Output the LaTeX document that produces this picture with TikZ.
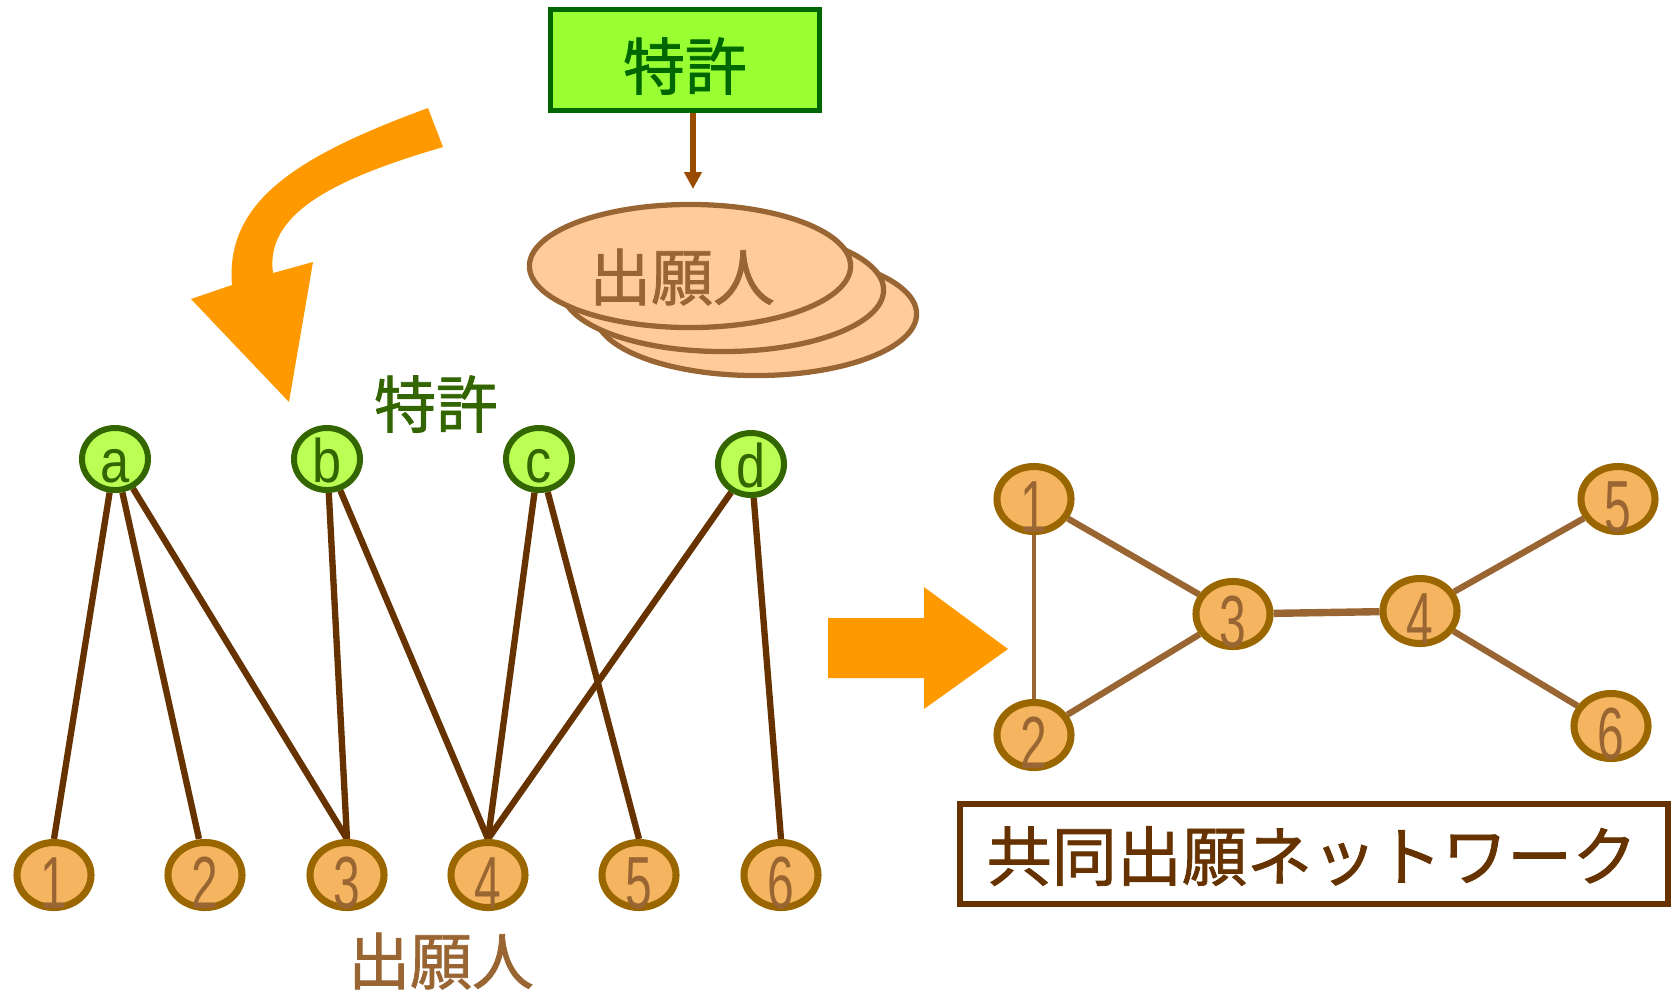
\documentclass[tikz,border=0pt]{standalone}
\usepackage{fontspec}
\usepackage{graphicx}
\setmainfont{Liberation Sans}
\newfontfamily\cjk{Noto Sans CJK JP}[FakeBold=1.2]
\usetikzlibrary{arrows.meta,calc,shapes.geometric}
\definecolor{cOrange}{HTML}{FF9900}
\definecolor{cBoxFill}{HTML}{99FF33}
\definecolor{cBoxBorder}{HTML}{006600}
\definecolor{cGreenText}{HTML}{336600}
\definecolor{cGreenFill}{HTML}{BBFF55}
\definecolor{cOrFill}{HTML}{F4B460}
\definecolor{cOrBorder}{HTML}{996600}
\definecolor{cDigit}{HTML}{996633}
\definecolor{cDarkBrown}{HTML}{663300}
\definecolor{cMidBrown}{HTML}{996633}
\definecolor{cStackFill}{HTML}{FFCC99}
\definecolor{cSmallArrow}{HTML}{994C00}
\pgfdeclarelayer{bg}
\pgfsetlayers{bg,main}
\tikzset{
  gnode/.style={ellipse, draw=cGreenText, fill=cGreenFill, line width=1.7pt, minimum width=0.66cm, minimum height=0.62cm, inner sep=0pt},
  onode/.style={ellipse, draw=cOrBorder, fill=cOrFill, line width=2pt, minimum width=0.74cm, minimum height=0.65cm, inner sep=0pt},
  gletter/.style={text=cGreenText, font=\fontsize{17.5pt}{20pt}\selectfont, anchor=base, inner sep=0pt},
  digit/.style={text=cDigit, font=\fontsize{21pt}{24pt}\selectfont, anchor=base, inner sep=0pt},
  ledgeline/.style={draw=cDarkBrown, line width=1.8pt},
  redgeline/.style={draw=cMidBrown, line width=1.8pt},
  stackell/.style={ellipse, draw=cMidBrown, fill=cStackFill, line width=1.5pt, minimum width=3.21cm, minimum height=1.23cm, inner sep=0pt},
  cjklabel/.style={font=\cjk\fontsize{17.6pt}{20pt}\selectfont, inner sep=0pt},
}
\newcommand{\gl}[1]{\scalebox{0.85}[1]{#1}}
\newcommand{\dg}[1]{\scalebox{0.65}[1]{#1}}
\begin{document}
\begin{tikzpicture}[x=0.01cm,y=-0.01cm]
\useasboundingbox (0,0) rectangle (1675,993);

% top patent box and arrow
\node[draw=cBoxBorder, fill=cBoxFill, line width=1.5pt, minimum width=2.69cm, minimum height=1.01cm, inner sep=0pt] (pat) at (685,60) {};
\node[cjklabel, text=cBoxBorder] (patt) at (685,66) {特許};
\coordinate (ptip) at (693,189);
\draw[cSmallArrow, line width=1.6pt, -{Triangle[width=0.17cm,length=0.17cm]}] (pat.south -| ptip) -- (ptip);

% stacked applicant ellipses
\node[stackell] (ap3) at (756,314) {};
\node[stackell] (ap2) at (723,290) {};
\node[stackell] (ap1) at (690,266) {};
\node[cjklabel, text=cMidBrown] (ap1t) at (682,277) {出願人};

% curved orange arrow
\fill[cOrange] (428,108) .. controls (300,155) and (225,200) .. (232,285) -- (191,299) -- (289,402) -- (313,262) -- (273,273) .. controls (265,215) and (330,180) .. (443,147) -- cycle;

% left bipartite graph
\node[cjklabel, text=cGreenText] (patlab) at (436,404) {特許};
\node[cjklabel, text=cMidBrown] (applab) at (441,961) {出願人};

\node[gnode] (a) at (115,459) {};
\node[gnode] (b) at (327,459) {};
\node[gnode] (c) at (539,459) {};
\node[gnode] (d) at (751,464) {};
\foreach \n/\t in {a/a,b/b,c/c,d/d}{
  \node[gletter] (\n t) at ($(\n)+(0,23)$) {\gl{\t}};
}

\node[onode] (p1) at (54,875) {};
\node[onode] (p2) at (205,875) {};
\node[onode] (p3) at (347,875) {};
\node[onode] (p4) at (488,875) {};
\node[onode] (p5) at (639,875) {};
\node[onode] (p6) at (781,875) {};
\foreach \n in {1,...,6}{
  \node[digit] (p\n t) at ($(p\n)+(0,33)$) {\dg{\n}};
}

\begin{pgfonlayer}{bg}
\draw[ledgeline] (a) -- (p1.north);
\draw[ledgeline] (a) -- ($(p2.north)+(-6,0)$);
\draw[ledgeline] (a) -- (p3.north);
\draw[ledgeline] (b) -- (p3.north);
\draw[ledgeline] (b) -- (p4.north);
\draw[ledgeline] (c) -- (p4.north);
\draw[ledgeline] (c) -- (p5.north);
\draw[ledgeline] (d) -- (p4.north);
\draw[ledgeline] (d) -- (p6.north);
\end{pgfonlayer}

% right arrow
\fill[cOrange] (828,618) -- (924,618) -- (924,587) -- (1008,649) -- (924,709) -- (924,678) -- (828,678) -- cycle;

% co-application network
\node[onode] (q1) at (1034,499) {};
\node[onode] (q2) at (1034,735) {};
\node[onode] (q3) at (1233,614) {};
\node[onode] (q4) at (1420,611) {};
\node[onode] (q5) at (1618,499) {};
\node[onode] (q6) at (1611,726) {};
\foreach \n in {1,...,6}{
  \node[digit] (q\n t) at ($(q\n)+(0,33)$) {\dg{\n}};
}
\begin{pgfonlayer}{bg}
\draw[redgeline, line width=1.2pt] (q1) -- (q2);
\draw[redgeline] (q1) -- (q3);
\draw[redgeline] (q2) -- (q3);
\draw[redgeline, line width=2.1pt] (q3) -- (q4);
\draw[redgeline] (q4) -- (q5);
\draw[redgeline] (q4) -- (q6);
\end{pgfonlayer}

\node[draw=cDarkBrown, line width=1.6pt, minimum width=7.08cm, minimum height=1.0cm, inner sep=0pt] (net) at (1314,854) {};
\node[text=cDarkBrown, font=\cjk\fontsize{18.5pt}{21pt}\selectfont, inner sep=0pt] (nett) at (1312,856) {共同出願ネットワーク};
\end{tikzpicture}
\end{document}
